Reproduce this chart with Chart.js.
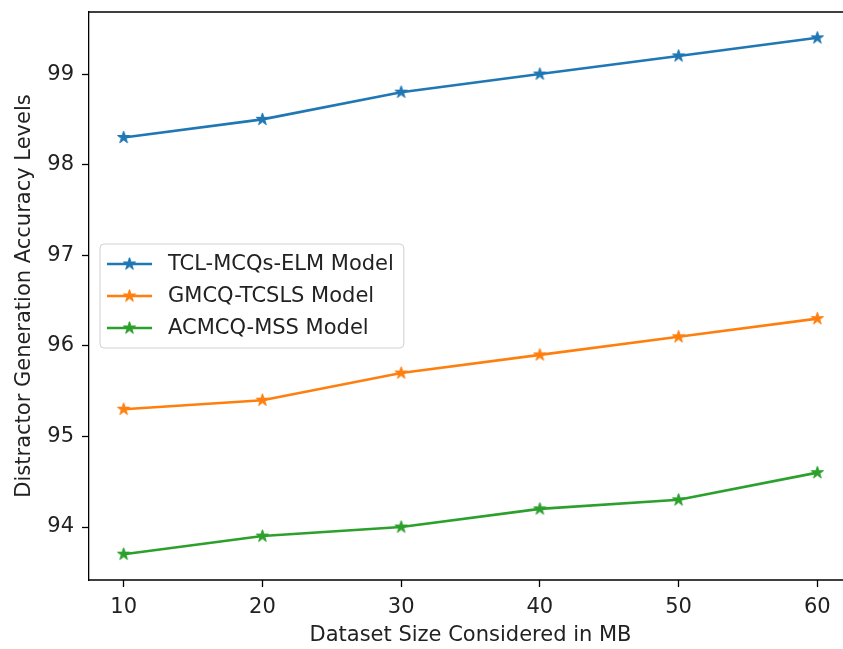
<!DOCTYPE html>
<html><head><meta charset="utf-8">
<script src="https://cdn.jsdelivr.net/npm/chart.js@4.4.0/dist/chart.umd.min.js"></script>
<style>html,body{margin:0;padding:0;overflow:hidden;background:#fff}#wrap{width:843px;height:649px;position:relative;overflow:hidden}#c{position:absolute;left:0;top:0}</style>
</head><body><div id="wrap"><canvas id="c" width="880" height="649" style="width:880px;height:649px"></canvas></div>
<script>
const xValues = [10, 20, 30, 40, 50, 60];
const seriesNames = ['TCL-MCQs-ELM Model', 'GMCQ-TCSLS Model', 'ACMCQ-MSS Model'];
const tclValues = [98.3, 98.5, 98.8, 99.0, 99.2, 99.4];
const gmcqValues = [95.3, 95.4, 95.7, 95.9, 96.1, 96.3];
const acmcqValues = [93.7, 93.9, 94.0, 94.2, 94.3, 94.6];
const xTicks = [10, 20, 30, 40, 50, 60];
const yTicks = [94, 95, 96, 97, 98, 99];
const colors = ['#1f77b4', '#ff7f0e', '#2ca02c'];
const FONT = 'DejaVu Sans';
const FS = 21;
const TXT = '#222';

function starCanvas(color, r) {
  const c = document.createElement('canvas');
  const s = Math.ceil(2 * r + 2);
  c.width = s; c.height = s;
  const g = c.getContext('2d');
  const cx = s / 2, cy = s / 2, ri = r * 0.382;
  g.beginPath();
  for (let i = 0; i < 10; i++) {
    const rr = i % 2 === 0 ? r : ri;
    const a = -Math.PI / 2 + i * Math.PI / 5;
    const px = cx + rr * Math.cos(a), py = cy + rr * Math.sin(a);
    if (i === 0) g.moveTo(px, py); else g.lineTo(px, py);
  }
  g.closePath();
  g.fillStyle = color; g.fill();
  g.strokeStyle = color; g.lineWidth = 1; g.stroke();
  return c;
}
const stars = colors.map(c => starCanvas(c, 6.5));
const allSeries = [tclValues, gmcqValues, acmcqValues];

const datasets = allSeries.map((vals, i) => ({
  label: seriesNames[i],
  data: xValues.map((x, j) => ({x: x, y: vals[j]})),
  borderColor: colors[i],
  backgroundColor: colors[i],
  borderWidth: 2.6,
  pointStyle: stars[i],
  pointRadius: 6,
  pointHoverRadius: 6,
  tension: 0,
  fill: false,
  clip: false
}));

const framePlugin = {
  id: 'frame',
  afterDraw(chart) {
    const {ctx, chartArea: a} = chart;
    ctx.save();
    // clear anything drawn along the clipped right edge
    ctx.fillStyle = '#fff';
    ctx.fillRect(836, a.top + 1, chart.width - 836, a.bottom - a.top - 2);
    ctx.strokeStyle = '#000';
    ctx.lineWidth = 1.3;
    ctx.beginPath();
    ctx.moveTo(a.left, a.top); ctx.lineTo(chart.width, a.top);
    ctx.moveTo(a.left, a.bottom); ctx.lineTo(chart.width, a.bottom);
    ctx.stroke();
    // legend (matplotlib "center left")
    ctx.font = FS + 'px "' + FONT + '"';
    let maxW = 0;
    chart.data.datasets.forEach(d => { maxW = Math.max(maxW, ctx.measureText(d.label).width); });
    const rowH = 32;
    const boxH = 104;
    const boxW = 68 + maxW + 10;
    const bx = a.left + 11;
    const cyA = (a.top + a.bottom) / 2;
    const by = cyA - boxH / 2;
    ctx.beginPath();
    ctx.roundRect(bx, by, boxW, boxH, 4);
    ctx.fillStyle = 'rgba(255,255,255,0.8)';
    ctx.fill();
    ctx.strokeStyle = '#d0d0d0';
    ctx.lineWidth = 1;
    ctx.stroke();
    chart.data.datasets.forEach((d, i) => {
      const y = by + 20 + i * rowH;
      ctx.beginPath();
      ctx.moveTo(bx + 7, y); ctx.lineTo(bx + 52, y);
      ctx.strokeStyle = d.borderColor; ctx.lineWidth = 2.6; ctx.stroke();
      const st = d.pointStyle;
      ctx.drawImage(st, bx + 29.5 - st.width / 2, y - st.height / 2);
      ctx.fillStyle = TXT;
      ctx.textBaseline = 'middle';
      ctx.textAlign = 'left';
      ctx.fillText(d.label, bx + 68, y + 1);
    });
    ctx.restore();
  }
};

new Chart(document.getElementById('c'), {
  type: 'line',
  data: {datasets},
  plugins: [framePlugin],
  options: {
    responsive: false,
    animation: false,
    events: [],
    layout: {padding: {left: 0, top: 12, right: 28, bottom: 0}},
    plugins: {legend: {display: false}, tooltip: {enabled: false}},
    scales: {
      x: {
        type: 'linear', min: 7.5, max: 62.5,
        afterBuildTicks: s => { s.ticks = xTicks.map(v => ({value: v})); },
        afterFit: s => { s.height = 69; s.paddingLeft = 0; s.paddingRight = 0; },
        grid: {drawOnChartArea: false, drawTicks: true, tickLength: 7, color: '#000', tickWidth: 1.3},
        border: {display: false},
        ticks: {color: TXT, font: {family: FONT, size: FS}, padding: 8, maxRotation: 0},
        title: {display: true, text: 'Dataset Size Considered in MB', color: TXT, font: {family: FONT, size: FS}, padding: {top: 0, bottom: 1}}
      },
      y: {
        type: 'linear', min: 93.415, max: 99.685,
        afterBuildTicks: s => { s.ticks = yTicks.map(v => ({value: v})); },
        afterFit: s => { s.width = 89; s.paddingTop = 0; s.paddingBottom = 0; },
        grid: {drawOnChartArea: false, drawTicks: true, tickLength: 7, color: '#000', tickWidth: 1.3},
        border: {display: true, color: '#000', width: 1.3},
        ticks: {color: TXT, font: {family: FONT, size: FS}, padding: 8},
        title: {display: true, text: 'Distractor Generation Accuracy Levels', color: TXT, font: {family: FONT, size: FS}, padding: {top: 12, bottom: 0}}
      }
    }
  }
});
</script></body></html>
